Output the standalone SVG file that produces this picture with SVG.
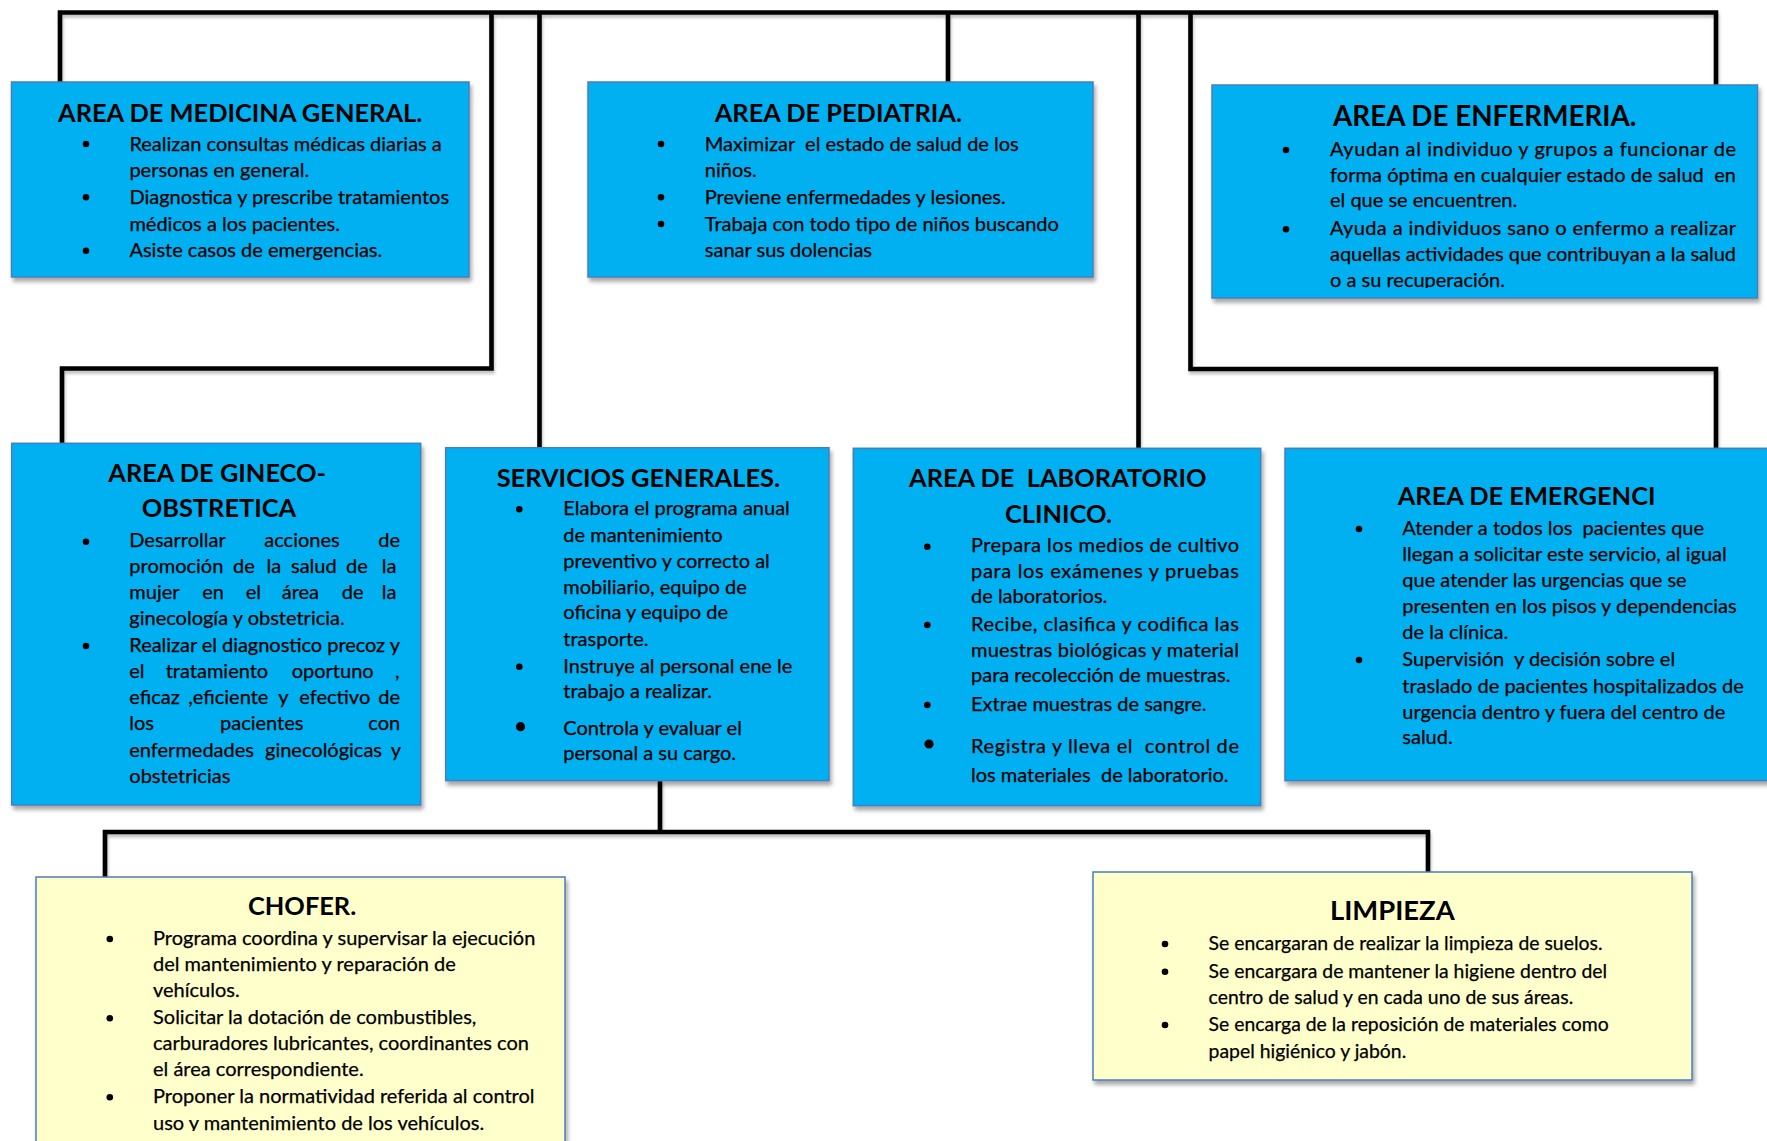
<svg xmlns="http://www.w3.org/2000/svg" width="1767" height="1141" viewBox="0 0 1767 1141">
<style>
.bb{fill:#00B0F0;stroke:#4A7EBB;stroke-width:1.5}
.by{fill:#FFFFCC;stroke:#4A7EBB;stroke-width:1.5}
.t{font-family:Lato,"Liberation Sans",sans-serif;font-weight:bold;font-size:25.4px;fill:#000}
.b{font-family:Lato,"Liberation Sans",sans-serif;font-size:20px;fill:#000;stroke:#000;stroke-width:0.25;white-space:pre}
.d{fill:#000}
.ln{fill:none;stroke:#000;stroke-width:4.6;stroke-linejoin:miter}
</style>
<defs>
<filter id="sh" x="-5%" y="-5%" width="115%" height="120%">
<feDropShadow dx="2" dy="4" stdDeviation="2" flood-color="#000" flood-opacity="0.35"/>
</filter>
<filter id="lsh" x="-5%" y="-5%" width="110%" height="110%">
<feDropShadow dx="1" dy="3" stdDeviation="1.5" flood-color="#000" flood-opacity="0.25"/>
</filter>
<clipPath id="cEnf"><rect x="1212" y="85" width="546" height="203"/></clipPath>
<clipPath id="cCho"><rect x="36" y="877" width="530" height="254"/></clipPath>
</defs>
<rect width="1767" height="1141" fill="#fff"/>

<g id="connectors" filter="url(#lsh)">
<path class="ln" d="M60,84 V12.5 H1716 V86"/>
<path class="ln" d="M491.5,12.5 V368.5 H62 V444"/>
<path class="ln" d="M539.5,12.5 V448"/>
<path class="ln" d="M948,12.5 V83"/>
<path class="ln" d="M1138.5,12.5 V449"/>
<path class="ln" d="M1190.5,12.5 V369 H1716 V449"/>
<path class="ln" d="M660,781 V832"/>
<path class="ln" d="M105,878 V832 H1428 V873"/>
</g>

<g id="medicina">
<rect class="bb" x="11.5" y="82" width="457.5" height="195" filter="url(#sh)"/>
<text class="t" x="58" y="121.5">AREA DE MEDICINA GENERAL.</text>
<circle class="d" cx="86" cy="144" r="3.3"/><circle class="d" cx="86" cy="197.3" r="3.3"/><circle class="d" cx="86" cy="250.7" r="3.3"/>
<text class="b" x="129.4" y="150.5">Realizan consultas médicas diarias a</text>
<text class="b" x="129.4" y="177">personas en general.</text>
<text class="b" x="129.4" y="204">Diagnostica y prescribe tratamientos</text>
<text class="b" x="129.4" y="230.5">médicos a los pacientes.</text>
<text class="b" x="129.4" y="257.3">Asiste casos de emergencias.</text>
</g>

<g id="pediatria">
<rect class="bb" x="588" y="82" width="505" height="195" filter="url(#sh)"/>
<text class="t" x="714.7" y="121.5">AREA DE PEDIATRIA.</text>
<circle class="d" cx="661" cy="144" r="3.3"/><circle class="d" cx="661" cy="197.3" r="3.3"/><circle class="d" cx="661" cy="224" r="3.3"/>
<text class="b" x="704.8" y="150.5">Maximizar  el estado de salud de los</text>
<text class="b" x="704.8" y="177">niños.</text>
<text class="b" x="704.8" y="204">Previene enfermedades y lesiones.</text>
<text class="b" x="704.8" y="230.5">Trabaja con todo tipo de niños buscando</text>
<text class="b" x="704.8" y="257.3">sanar sus dolencias</text>
</g>

<g id="enfermeria">
<rect class="bb" x="1212" y="85" width="545.5" height="213" filter="url(#sh)"/>
<text class="t" x="1333" y="126" style="font-size:27.8px">AREA DE ENFERMERIA.</text>
<circle class="d" cx="1286" cy="150" r="3.3"/><circle class="d" cx="1286" cy="229.3" r="3.3"/>
<g clip-path="url(#cEnf)">
<text class="b" x="1330" y="156" textLength="406" lengthAdjust="spacing">Ayudan al individuo y grupos a funcionar de</text>
<text class="b" x="1330" y="182" textLength="406" lengthAdjust="spacing">forma óptima en cualquier estado de salud  en</text>
<text class="b" x="1330" y="207.3">el que se encuentren.</text>
<text class="b" x="1330" y="235" textLength="406" lengthAdjust="spacing">Ayuda a individuos sano o enfermo a realizar</text>
<text class="b" x="1330" y="260.7" textLength="406" lengthAdjust="spacing">aquellas actividades que contribuyan a la salud</text>
<text class="b" x="1330" y="286.7">o a su recuperación.</text>
</g>
</g>

<g id="gineco">
<rect class="bb" x="11.7" y="443.3" width="409" height="361.7" filter="url(#sh)"/>
<text class="t" x="108.3" y="481.7">AREA DE GINECO-</text>
<text class="t" x="141.7" y="517.3">OBSTRETICA</text>
<circle class="d" cx="86" cy="541.7" r="3.3"/><circle class="d" cx="86" cy="646" r="3.3"/>
<text class="b" y="547.3"><tspan x="129.3">Desarrollar</tspan><tspan x="264.3">acciones</tspan><tspan x="378.3">de</tspan></text>
<text class="b" y="573.3"><tspan x="129.3">promoción</tspan><tspan x="233">de</tspan><tspan x="266.5">la</tspan><tspan x="291">salud</tspan><tspan x="346">de</tspan><tspan x="381.7">la</tspan></text>
<text class="b" y="599.3"><tspan x="129.3">mujer</tspan><tspan x="202.3">en</tspan><tspan x="245.7">el</tspan><tspan x="281.7">área</tspan><tspan x="341.7">de</tspan><tspan x="381.7">la</tspan></text>
<text class="b" x="129.3" y="625.3">ginecología y obstetricia.</text>
<text class="b" x="129.3" y="651.7" textLength="270.7" lengthAdjust="spacing">Realizar el diagnostico precoz y</text>
<text class="b" y="678.3"><tspan x="129.3">el</tspan><tspan x="165.7">tratamiento</tspan><tspan x="291.7">oportuno</tspan><tspan x="395">,</tspan></text>
<text class="b" y="704"><tspan x="129.3">eficaz</tspan><tspan x="188.3">,eficiente</tspan><tspan x="278.3">y</tspan><tspan x="299.3">efectivo</tspan><tspan x="378.3">de</tspan></text>
<text class="b" y="730"><tspan x="129.3">los</tspan><tspan x="220">pacientes</tspan><tspan x="368.3">con</tspan></text>
<text class="b" y="756.7"><tspan x="129.3">enfermedades</tspan><tspan x="265">ginecológicas</tspan><tspan x="390.7">y</tspan></text>
<text class="b" x="129.3" y="782.7">obstetricias</text>
</g>

<g id="servicios">
<rect class="bb" x="445.7" y="447.7" width="383.3" height="333" filter="url(#sh)"/>
<text class="t" x="496.7" y="487.3">SERVICIOS GENERALES.</text>
<circle class="d" cx="519.3" cy="509.3" r="3.3"/><circle class="d" cx="519.3" cy="666.7" r="3.3"/><circle class="d" cx="520.5" cy="726.7" r="4.6"/>
<text class="b" x="563.3" y="515">Elabora el programa anual</text>
<text class="b" x="563.3" y="541.7">de mantenimiento</text>
<text class="b" x="563.3" y="567.7">preventivo y correcto al</text>
<text class="b" x="563.3" y="594">mobiliario, equipo de</text>
<text class="b" x="563.3" y="619.3">oficina y equipo de</text>
<text class="b" x="563.3" y="645.7">trasporte.</text>
<text class="b" x="563.3" y="672.7">Instruye al personal ene le</text>
<text class="b" x="563.3" y="698.3">trabajo a realizar.</text>
<text class="b" x="563.3" y="735">Controla y evaluar el</text>
<text class="b" x="563.3" y="760">personal a su cargo.</text>
</g>

<g id="laboratorio">
<rect class="bb" x="853.3" y="448.3" width="407.4" height="357.4" filter="url(#sh)"/>
<text class="t" x="909" y="486.7" style="white-space:pre">AREA DE  LABORATORIO</text>
<text class="t" x="1005" y="522.7">CLINICO.</text>
<circle class="d" cx="927.3" cy="546.7" r="3.3"/><circle class="d" cx="927.3" cy="625" r="3.3"/><circle class="d" cx="927.3" cy="705" r="3.3"/><circle class="d" cx="929" cy="744" r="4.6"/>
<text class="b" x="971" y="551.7" textLength="268" lengthAdjust="spacing">Prepara los medios de cultivo</text>
<text class="b" x="971" y="577.7" textLength="268" lengthAdjust="spacing">para los exámenes y pruebas</text>
<text class="b" x="971" y="603.3">de laboratorios.</text>
<text class="b" x="971" y="630.7" textLength="268" lengthAdjust="spacing">Recibe, clasifica y codifica las</text>
<text class="b" x="971" y="656.7" textLength="268" lengthAdjust="spacing">muestras biológicas y material</text>
<text class="b" x="971" y="682.3">para recolección de muestras.</text>
<text class="b" x="971" y="710.7">Extrae muestras de sangre.</text>
<text class="b" x="971" y="752.7" textLength="268" lengthAdjust="spacing">Registra y lleva el  control de</text>
<text class="b" x="971" y="782.3">los materiales  de laboratorio.</text>
</g>

<g id="emergencia">
<rect class="bb" x="1285" y="448.3" width="490" height="332.4" filter="url(#sh)"/>
<text class="t" x="1397.7" y="505">AREA DE EMERGENCI</text>
<circle class="d" cx="1359" cy="529" r="3.3"/><circle class="d" cx="1359" cy="660" r="3.3"/>
<text class="b" x="1402.3" y="535">Atender a todos los  pacientes que</text>
<text class="b" x="1402.3" y="561">llegan a solicitar este servicio, al igual</text>
<text class="b" x="1402.3" y="586.7">que atender las urgencias que se</text>
<text class="b" x="1402.3" y="612.7">presenten en los pisos y dependencias</text>
<text class="b" x="1402.3" y="639">de la clínica.</text>
<text class="b" x="1402.3" y="666">Supervisión  y decisión sobre el</text>
<text class="b" x="1402.3" y="692.7">traslado de pacientes hospitalizados de</text>
<text class="b" x="1402.3" y="718.7">urgencia dentro y fuera del centro de</text>
<text class="b" x="1402.3" y="744">salud.</text>
</g>

<g id="chofer">
<rect class="by" x="36" y="877" width="529" height="270" filter="url(#sh)"/>
<text class="t" x="248" y="915">CHOFER.</text>
<circle class="d" cx="109.8" cy="939" r="3.3"/><circle class="d" cx="109.8" cy="1018.3" r="3.3"/><circle class="d" cx="109.8" cy="1097.3" r="3.3"/>
<g clip-path="url(#cCho)">
<text class="b" x="153" y="945">Programa coordina y supervisar la ejecución</text>
<text class="b" x="153" y="970.7">del mantenimiento y reparación de</text>
<text class="b" x="153" y="996.7">vehículos.</text>
<text class="b" x="153" y="1024">Solicitar la dotación de combustibles,</text>
<text class="b" x="153" y="1050">carburadores lubricantes, coordinantes con</text>
<text class="b" x="153" y="1076">el área correspondiente.</text>
<text class="b" x="153" y="1103.3">Proponer la normatividad referida al control</text>
<text class="b" x="153" y="1130">uso y mantenimiento de los vehículos.</text>
</g>
</g>

<g id="limpieza">
<rect class="by" x="1093" y="872" width="599" height="208" filter="url(#sh)"/>
<text class="t" x="1330" y="920" style="font-size:27.4px">LIMPIEZA</text>
<circle class="d" cx="1165" cy="944" r="3.3"/><circle class="d" cx="1165" cy="971.7" r="3.3"/><circle class="d" cx="1165" cy="1025" r="3.3"/>
<text class="b" x="1208.6" y="950" style="font-size:19.4px">Se encargaran de realizar la limpieza de suelos.</text>
<text class="b" x="1208.6" y="978.3" style="font-size:19.4px">Se encargara de mantener la higiene dentro del</text>
<text class="b" x="1208.6" y="1004" style="font-size:19.4px">centro de salud y en cada uno de sus áreas.</text>
<text class="b" x="1208.6" y="1031" style="font-size:19.4px">Se encarga de la reposición de materiales como</text>
<text class="b" x="1208.6" y="1057.7" style="font-size:19.4px">papel higiénico y jabón.</text>
</g>
</svg>
